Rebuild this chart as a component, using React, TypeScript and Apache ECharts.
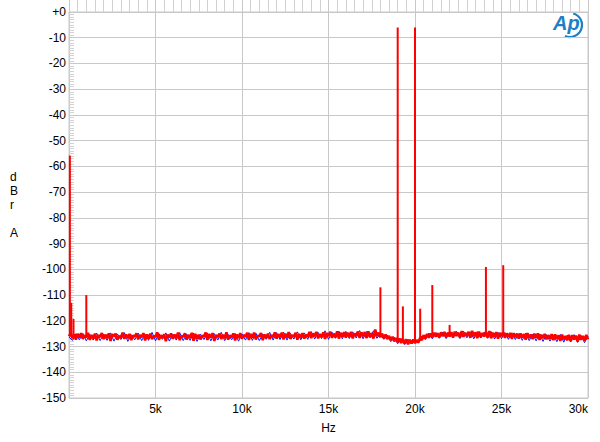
import React, { useEffect, useRef } from "react";
import * as echarts from "echarts";

// Noise floor of the red trace, one value every 100 Hz from 0 Hz to 30 kHz (dBr A)
const redFloor: number[] = [
  -126.0,-124.9,-126.8,-125.3,-127.3,-125.1,-126.5,-124.8,-127.0,-125.7,-126.4,-124.7,-127.4,-125.5,-126.9,-125.0,-127.6,-125.6,-126.3,-124.8,
  -127.1,-125.4,-126.7,-124.9,-127.8,-125.2,-126.1,-125.0,-127.3,-125.9,-126.6,-124.6,-127.0,-125.3,-126.8,-125.1,-127.5,-125.7,-126.2,-124.9,
  -127.2,-125.5,-126.4,-124.8,-127.6,-125.3,-126.9,-125.0,-127.1,-125.8,-126.3,-124.5,-127.4,-125.6,-126.7,-125.2,-127.9,-125.4,-126.5,-124.9,
  -127.0,-125.3,-126.8,-124.6,-127.5,-125.9,-126.2,-124.9,-127.3,-125.5,-126.6,-124.7,-127.7,-125.1,-126.9,-125.4,-127.2,-125.8,-126.1,-124.6,
  -127.4,-125.2,-126.5,-124.8,-127.8,-125.6,-126.3,-125.0,-127.1,-125.4,-126.8,-124.5,-127.3,-125.7,-126.4,-124.9,-127.6,-125.3,-126.7,-124.8,
  -127.0,-125.5,-126.2,-124.7,-127.4,-125.1,-126.6,-124.6,-127.2,-125.8,-126.0,-124.8,-127.5,-125.3,-126.7,-125.0,-127.1,-125.6,-126.3,-124.5,
  -126.9,-125.2,-126.4,-124.6,-127.2,-125.0,-126.5,-124.4,-127.0,-125.6,-126.1,-124.7,-127.3,-125.1,-126.6,-124.8,-126.9,-125.4,-126.2,-124.3,
  -126.7,-124.9,-126.0,-124.3,-126.8,-125.2,-126.3,-124.5,-127.0,-124.8,-125.9,-124.2,-126.6,-125.0,-126.4,-124.1,-126.9,-124.7,-126.1,-124.4,
  -126.5,-124.6,-126.2,-124.3,-126.8,-124.9,-125.8,-124.2,-126.6,-124.5,-126.0,-124.4,-126.7,-124.1,-126.3,-124.8,-126.9,-123.4,-126.0,-124.6,
  -126.4,-125.0,-126.8,-125.3,-127.1,-125.9,-127.5,-126.2,-128.0,-126.7,-128.3,-126.9,-128.6,-127.0,-128.9,-127.2,-129.1,-127.4,-128.8,-127.3,
  -128.7,-127.5,-128.4,-126.6,-127.5,-125.6,-126.9,-125.1,-126.6,-124.9,-126.4,-124.6,-126.2,-124.8,-126.5,-124.5,-126.0,-124.3,-126.3,-124.6,
  -126.1,-124.4,-126.4,-124.2,-125.9,-124.6,-126.5,-124.0,-126.2,-124.7,-125.8,-124.3,-126.6,-123.9,-126.0,-124.5,-126.7,-124.2,-126.3,-124.8,
  -126.1,-124.3,-126.5,-124.0,-126.8,-124.6,-126.2,-124.4,-126.9,-124.7,-126.0,-124.5,-126.6,-124.9,-126.3,-124.7,-127.0,-124.8,-126.4,-125.0,
  -126.9,-124.9,-126.5,-125.2,-127.3,-124.8,-126.7,-125.3,-127.1,-125.0,-126.6,-124.9,-127.4,-125.4,-126.8,-125.1,-127.2,-125.6,-126.9,-125.2,
  -127.5,-125.3,-127.0,-125.7,-127.8,-125.4,-127.2,-125.9,-127.6,-125.5,-127.9,-125.6,-127.3,-125.8,-128.0,-125.4,-127.4,-125.9,-127.7,-125.5,
  -127.2,
];
const redStep = 100;

// Noise floor of the blue trace, one value every 200 Hz from 0 Hz to 30 kHz
const blueFloor: number[] = [
  -126.3,-127.6,-125.0,-127.4,-124.9,-127.8,-125.3,-127.5,-124.8,-127.7,
  -125.2,-127.6,-124.7,-127.9,-125.1,-127.3,-124.6,-128.0,-125.4,-127.4,
  -124.8,-127.7,-125.2,-127.6,-124.5,-127.8,-125.0,-127.2,-124.7,-127.9,
  -125.3,-127.5,-124.6,-127.7,-125.1,-127.6,-124.8,-128.0,-125.2,-127.3,
  -124.7,-127.8,-125.0,-127.5,-124.5,-127.7,-125.3,-127.4,-124.9,-127.9,
  -125.1,-127.5,-124.6,-127.6,-124.8,-127.7,-125.2,-127.2,-124.5,-127.5,
  -124.6,-127.3,-124.4,-127.5,-124.9,-127.1,-124.3,-127.4,-124.7,-127.2,
  -124.2,-127.1,-124.5,-126.9,-123.9,-127.2,-124.4,-126.8,-124.0,-127.0,
  -124.1,-126.9,-124.3,-126.7,-123.8,-127.0,-124.2,-126.6,-123.9,-126.8,
  -125.0,-127.2,-125.6,-128.1,-126.4,-128.9,-126.9,-129.2,-127.2,-129.0,
  -127.0,-128.7,-125.9,-127.3,-124.8,-127.0,-124.6,-126.8,-124.4,-126.9,
  -124.3,-126.7,-124.1,-126.9,-124.0,-126.6,-124.3,-127.0,-124.2,-126.7,
  -124.4,-126.8,-124.2,-127.1,-124.5,-126.9,-124.6,-127.2,-124.7,-127.3,
  -125.0,-127.6,-124.8,-127.7,-125.2,-127.8,-125.1,-128.0,-125.4,-127.9,
  -125.5,-128.1,-125.3,-128.3,-125.6,-128.2,-125.4,-128.4,-125.7,-128.5,
  -126.0,
];
const blueStep = 200;

// Discrete tones on the red trace: frequency (Hz), peak level (dBr), floor level at the foot
const spikeFreqs: number[] = [50, 130, 260, 1000, 18000, 19000, 19300, 20000, 20300, 21000, 22000, 24100, 25100];
const spikePeaks: number[] = [-55.8, -113.0, -119.3, -110.0, -107.0, -6.0, -114.4, -6.0, -115.3, -106.1, -121.6, -99.1, -98.4];
const spikeFeet: number[] = [-126.0, -126.0, -126.0, -126.0, -125.5, -127.5, -127.5, -128.0, -127.0, -125.5, -125.0, -125.0, -125.3];

const yTicks: number[] = [0, -10, -20, -30, -40, -50, -60, -70, -80, -90, -100, -110, -120, -130, -140, -150];

const FONT = "'Liberation Sans', Arial, Helvetica, sans-serif";
const GRID = "#c8c8c8";
const FS = 12;

export default function App() {
  const ref = useRef<HTMLDivElement>(null);
  useEffect(() => {
    if (!ref.current) return;
    const chart = echarts.init(ref.current, null, { renderer: "svg" });
    const redData = redFloor.map((v, i) => [i * redStep, v]);
    const blueData = blueFloor.map((v, i) => [i * blueStep, v]);
    const spikeData = spikeFreqs.map((f, i) => [f, spikePeaks[i], spikeFeet[i]]);
    chart.setOption({
      animation: false,
      backgroundColor: "#ffffff",
      textStyle: { fontFamily: FONT },
      grid: {
        left: 69, right: 12, top: 12, bottom: 44,
        show: true, borderColor: GRID, borderWidth: 1, backgroundColor: "transparent",
      },
      xAxis: {
        type: "value",
        min: 0, max: 30000, interval: 5000,
        name: "Hz", nameLocation: "middle", nameGap: 24,
        nameTextStyle: { fontSize: FS, color: "#000", fontFamily: FONT },
        axisLine: { show: true, lineStyle: { color: GRID } },
        axisTick: { show: true, inside: true, length: 13, lineStyle: { color: GRID } },
        minorTick: { show: true, splitNumber: 10, length: 13, lineStyle: { color: "#d2d2d2" } },
        splitLine: { show: true, lineStyle: { color: GRID, width: 1 } },
        axisLabel: {
          fontSize: FS, color: "#000", margin: 5, fontFamily: FONT,
          alignMaxLabel: "right",
          formatter: (v: number) => (v === 0 ? "" : v / 1000 + "k"),
        },
      },
      yAxis: {
        type: "value",
        min: -150, max: 0, interval: 10,
        axisLine: { show: true, lineStyle: { color: GRID } },
        axisTick: { show: true, inside: true, length: 5, lineStyle: { color: GRID } },
        minorTick: { show: true, splitNumber: 10, length: 5, lineStyle: { color: "#d2d2d2" } },
        splitLine: { show: true, lineStyle: { color: GRID, width: 1 } },
        axisLabel: {
          fontSize: FS, color: "#000", margin: 3, fontFamily: FONT,
          formatter: (v: number) => (yTicks.includes(v) ? (v === 0 ? "+0" : String(v)) : ""),
        },
      },
      series: [
        {
          type: "line", name: "blue", data: blueData, showSymbol: false, symbol: "none",
          lineStyle: { color: "#1010ff", width: 1 }, z: 2,
        },
        {
          type: "line", name: "red", data: redData, showSymbol: false, symbol: "none",
          lineStyle: { color: "#ff0000", width: 2.6 }, z: 3,
        },
        {
          type: "custom", name: "tones", data: spikeData, z: 4,
          encode: { x: 0, y: [1, 2] },
          renderItem: (params: any, api: any) => {
            const top = api.coord([api.value(0), api.value(1)]);
            const foot = api.coord([api.value(0), api.value(2)]);
            return {
              type: "line",
              shape: { x1: top[0], y1: top[1], x2: foot[0], y2: foot[1] },
              style: { stroke: "#ff0000", lineWidth: 2 },
            };
          },
        },
      ],
      graphic: [
        {
          type: "text", left: 10, top: 170,
          style: {
            text: "d\nB\nr\n\nA", fontSize: FS, lineHeight: 14, fill: "#000",
            fontFamily: FONT, align: "center",
          },
        },
        {
          type: "text", x: 553, y: 13,
          style: {
            text: "Ap", fontSize: 20, fontStyle: "italic", fontWeight: "bold",
            fill: "#1f7fc4", fontFamily: FONT,
          },
        },
        {
          type: "arc", shape: { cx: 570, cy: 25, r: 12, startAngle: -1.3, endAngle: 2.0, clockwise: true },
          style: { stroke: "#1f7fc4", lineWidth: 2.2, fill: "none" },
        },
      ],
    });
    return () => chart.dispose();
  }, []);
  return (
    <div
      ref={ref}
      style={{ position: "fixed", left: 0, top: 0, width: 600, height: 442, background: "#fff" }}
    />
  );
}
